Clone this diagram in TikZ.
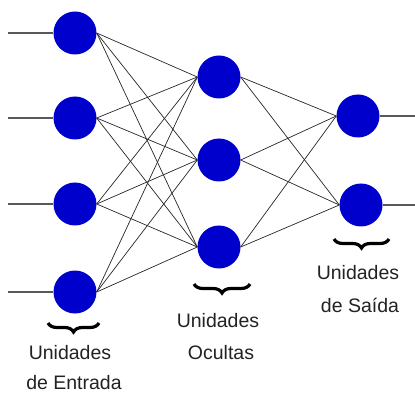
\documentclass[tikz,border=0pt]{standalone}
\usepackage{fontspec}
\setmainfont{Liberation Sans}
\usetikzlibrary{decorations.pathreplacing}
\definecolor{nodeblue}{RGB}{0,0,204}
\definecolor{txtgray}{RGB}{34,34,34}
\begin{document}
\begin{tikzpicture}[x=1pt,y=1pt,
  unit/.style={circle,fill=nodeblue,draw=none,minimum size=43pt,inner sep=0pt},
  conn/.style={draw=black!85,line width=0.7pt},
  io/.style={draw=black!65,line width=1.2pt},
  lbl/.style={font=\fontsize{19.5}{22}\selectfont,text=txtgray,inner sep=0pt},
  br/.style={decorate,decoration={brace,mirror,amplitude=9pt},line width=3.2pt,black}]
\useasboundingbox (0,0) rectangle (415,394);
\coordinate (i1) at (75,361);
\coordinate (i2) at (75,276);
\coordinate (i3) at (75,190);
\coordinate (i4) at (75,102);
\coordinate (h1) at (219,317);
\coordinate (h2) at (219,234);
\coordinate (h3) at (219,147);
\coordinate (o1) at (358,278);
\coordinate (o2) at (361,189);
\node[unit] (I1) at (i1) {};
\node[unit] (I2) at (i2) {};
\node[unit] (I3) at (i3) {};
\node[unit] (I4) at (i4) {};
\node[unit] (H1) at (h1) {};
\node[unit] (H2) at (h2) {};
\node[unit] (H3) at (h3) {};
\node[unit] (O1) at (o1) {};
\node[unit] (O2) at (o2) {};
\foreach \a in {I1,I2,I3,I4}{\foreach \b in {H1,H2,H3}{\draw[conn] (\a.east) -- (\b.west);}}
\foreach \a in {H1,H2,H3}{\foreach \b in {O1,O2}{\draw[conn] (\a.east) -- (\b.west);}}
\foreach \n/\y in {1/361,2/276,3/190,4/102}{
  \coordinate (s\n) at (8,\y);
  \draw[io] (s\n) -- (I\n.west);}
\coordinate (e1) at (415,278);
\coordinate (e2) at (415,189);
\draw[io] (O1.east) -- (e1);
\draw[io] (O2.east) -- (e2);
% braces
\coordinate (b1a) at (48,71); \coordinate (b1b) at (99,71);
\coordinate (b2a) at (194,110); \coordinate (b2b) at (250,110);
\coordinate (b3a) at (334,155); \coordinate (b3b) at (389,155);
\draw[br] (b1a) -- (b1b);
\draw[br] (b2a) -- (b2b);
\draw[br] (b3a) -- (b3b);
% labels
\node[lbl] (t1a) at (70,41) {Unidades};
\node[lbl] (t1b) at (74,11) {de Entrada};
\node[lbl] (t2a) at (218,73) {Unidades};
\node[lbl] (t2b) at (221,41) {Ocultas};
\node[lbl] (t3a) at (358,121) {Unidades};
\node[lbl] (t3b) at (360,89) {de Saída};
\end{tikzpicture}
\end{document}
